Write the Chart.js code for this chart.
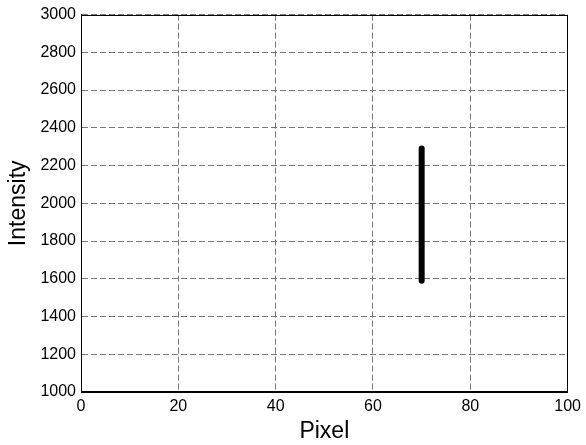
<!DOCTYPE html>
<html>
<head>
<meta charset="utf-8">
<script src="https://cdn.jsdelivr.net/npm/chart.js@4/dist/chart.umd.min.js"></script>
<style>
  html, body { margin: 0; padding: 0; background: #fff; }
  #wrap { width: 586px; height: 445px; }
</style>
</head>
<body>
<div id="wrap"><canvas id="c"></canvas></div>
<script>
// data
const pixelX = [70, 70];
const intensity = [1590, 2290];
const xTicks = [0, 20, 40, 60, 80, 100];
const yTicks = [1000, 1200, 1400, 1600, 1800, 2000, 2200, 2400, 2600, 2800, 3000];

const points = pixelX.map((x, i) => ({ x: x, y: intensity[i] }));
const family = 'Liberation Sans, Arial, sans-serif';
const tickFont = { family: family, size: 16 };
const titleFont = { family: family, size: 23 };

new Chart(document.getElementById('c'), {
    type: 'scatter',
    data: {
        datasets: [{
            data: points,
            showLine: true,
            borderColor: '#000',
            borderWidth: 6,
            borderCapStyle: 'round',
            pointRadius: 0
        }]
    },
    options: {
        responsive: true,
        maintainAspectRatio: false,
        animation: false,
        layout: { padding: { top: 11, right: 18, left: 0, bottom: 0 } },
        plugins: { legend: { display: false }, tooltip: { enabled: false } },
        scales: {
            x: {
                min: 0, max: 100,
                afterBuildTicks: (axis) => { axis.ticks = xTicks.map(v => ({ value: v })); },
                afterFit: (axis) => { axis.height = 53; },
                border: { display: true, color: '#000', width: 1, dash: [6, 3] },
                grid: { color: '#777', lineWidth: 1, drawTicks: false },
                ticks: { color: '#000', font: tickFont, padding: 5, maxRotation: 0, callback: v => String(v) },
                title: { display: true, text: 'Pixel', color: '#000', font: titleFont, padding: { top: 0, bottom: 0 } }
            },
            y: {
                min: 1000, max: 3000,
                afterBuildTicks: (axis) => { axis.ticks = yTicks.map(v => ({ value: v })); },
                afterFit: (axis) => { axis.width = 81; },
                border: { display: true, color: '#000', width: 1, dash: [6, 3] },
                grid: { color: '#777', lineWidth: 1, drawTicks: false },
                ticks: { color: '#000', font: tickFont, padding: 5, callback: v => String(v) },
                title: { display: true, text: 'Intensity', color: '#000', font: titleFont, padding: { top: 5, bottom: 0 } }
            }
        }
    },
    plugins: [{
        id: 'frame',
        afterDraw(chart) {
            const { ctx, chartArea: a } = chart;
            ctx.save();
            ctx.strokeStyle = '#000';
            ctx.lineWidth = 1;
            ctx.setLineDash([]);
            ctx.strokeRect(Math.round(a.left) + 0.5, Math.round(a.top) + 0.5,
                Math.round(a.right - a.left) - 1, Math.round(a.bottom - a.top) - 1);
            ctx.restore();
        }
    }]
});
</script>
</body>
</html>
